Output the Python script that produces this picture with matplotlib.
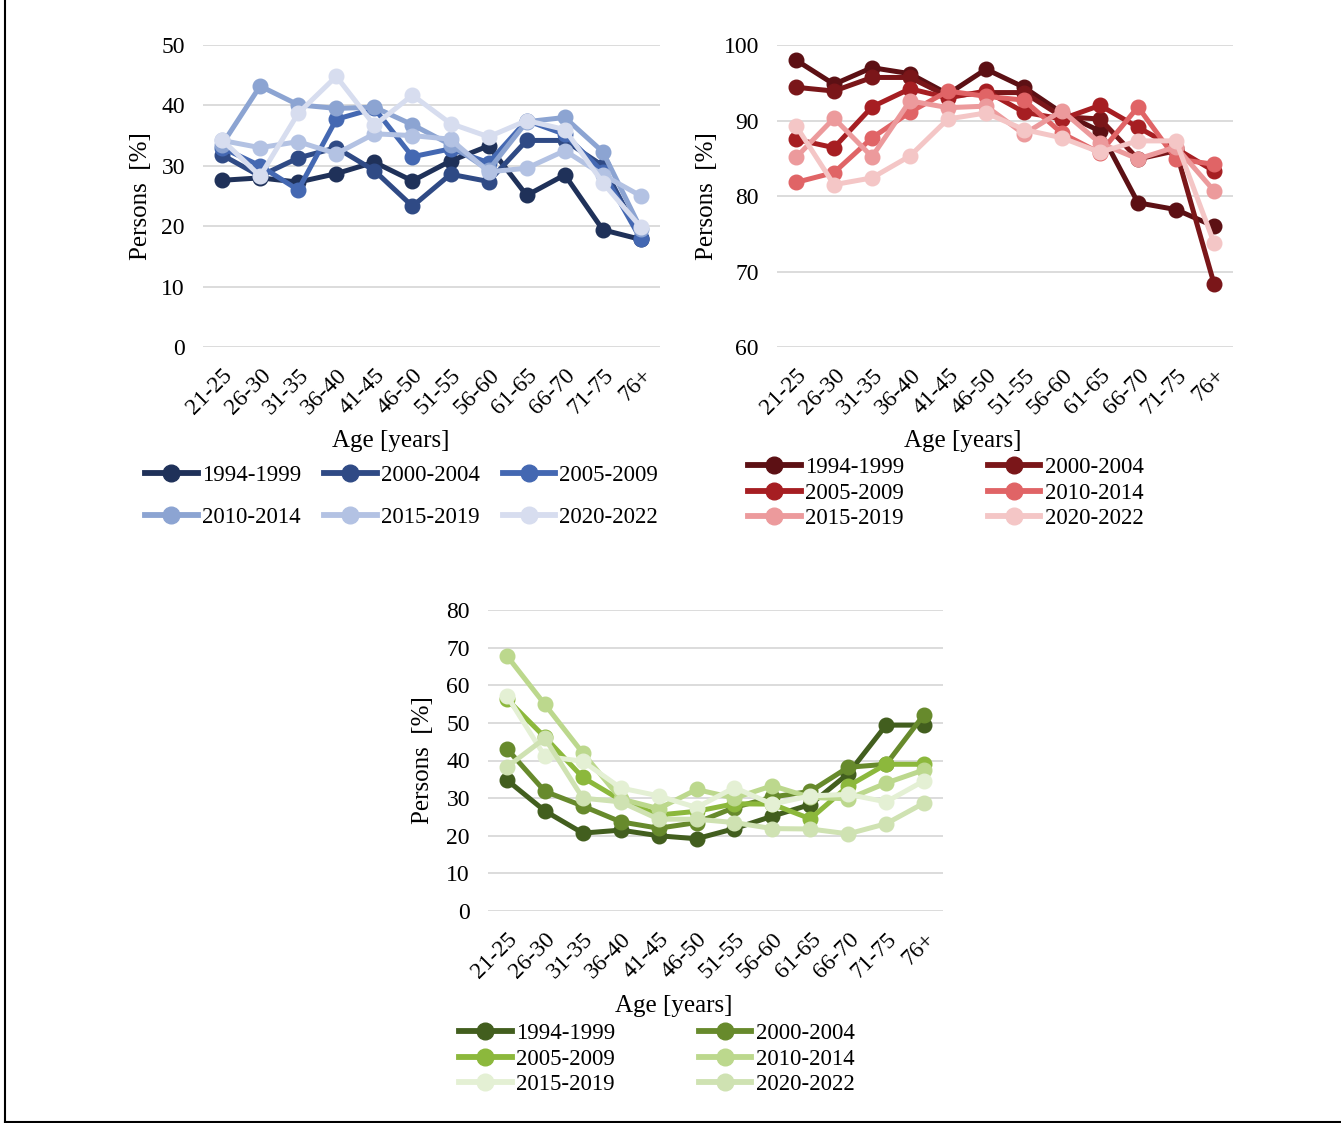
import matplotlib
matplotlib.use('Agg')
import matplotlib.pyplot as plt
from matplotlib.lines import Line2D

plt.rcParams['font.family'] = ['Liberation Serif', 'DejaVu Serif']
plt.rcParams['font.size'] = 17

ages = ['21-25', '26-30', '31-35', '36-40', '41-45', '46-50',
        '51-55', '56-60', '61-65', '66-70', '71-75', '76+']
periods = ['1994-1999', '2000-2004', '2005-2009', '2010-2014', '2015-2019', '2020-2022']

# top left chart (blue)
blue_1994 = [27.6, 28.0, 27.3, 28.7, 30.6, 27.5, 30.8, 33.3, 25.1, 28.5, 19.4, 17.8]
blue_2000 = [31.8, 28.3, 31.3, 33.0, 29.2, 23.3, 28.6, 27.4, 34.2, 34.2, 30.0, 18.0]
blue_2005 = [33.0, 30.0, 26.0, 37.7, 39.5, 31.5, 32.8, 30.5, 37.5, 35.2, 29.0, 17.8]
blue_2010 = [33.5, 43.2, 40.1, 39.5, 39.7, 36.8, 33.5, 29.3, 37.3, 38.0, 32.3, 19.5]
blue_2015 = [34.2, 33.0, 34.0, 32.0, 35.3, 35.0, 34.4, 29.0, 29.6, 32.5, 28.5, 25.0]
blue_2020 = [34.3, 28.3, 38.7, 44.8, 36.7, 41.7, 37.0, 34.8, 37.5, 36.0, 27.2, 19.8]
blue_series = [blue_1994, blue_2000, blue_2005, blue_2010, blue_2015, blue_2020]
blue_colors = ['#1f3159', '#2f4a85', '#4468b2', '#8ca4d2', '#b3c2e3', '#d7ddef']

# top right chart (red)
red_1994 = [98.0, 94.8, 97.0, 96.2, 93.5, 96.8, 94.4, 91.0, 88.6, 79.1, 78.2, 76.0]
red_2000 = [94.4, 93.9, 95.7, 95.7, 93.2, 93.7, 93.7, 90.5, 90.2, 84.9, 86.0, 68.4]
red_2005 = [87.5, 86.4, 91.8, 94.2, 93.0, 93.9, 91.1, 90.2, 92.0, 89.1, 86.3, 83.3]
red_2010 = [81.8, 83.1, 87.7, 91.1, 93.9, 93.2, 92.7, 88.3, 85.7, 91.8, 84.9, 84.2]
red_2015 = [85.1, 90.3, 85.2, 92.6, 91.7, 91.9, 88.2, 91.3, 87.0, 84.9, 86.5, 80.7]
red_2020 = [89.3, 81.5, 82.4, 85.3, 90.2, 91.0, 88.8, 87.7, 85.8, 87.3, 87.3, 73.8]
red_series = [red_1994, red_2000, red_2005, red_2010, red_2015, red_2020]
red_colors = ['#5c1014', '#7a1619', '#a61e22', '#e06466', '#ec9a9c', '#f4c6c6']

# bottom chart (green)
green_1994 = [34.8, 26.6, 20.7, 21.5, 20.0, 19.2, 21.9, 25.2, 28.3, 36.5, 49.4, 49.4]
green_2000 = [43.1, 31.8, 27.9, 23.7, 22.0, 23.5, 27.5, 30.3, 31.8, 38.2, 39.0, 52.2]
green_2005 = [56.3, 46.2, 35.5, 29.5, 25.5, 26.5, 28.5, 28.4, 24.5, 33.2, 39.0, 39.0]
green_2010 = [67.8, 54.9, 42.0, 29.8, 27.2, 32.3, 30.0, 33.3, 30.2, 29.8, 34.0, 37.5]
green_2015 = [57.2, 41.1, 39.8, 32.7, 30.6, 27.5, 32.8, 28.4, 30.6, 31.0, 29.0, 34.6]
green_2020 = [38.3, 45.9, 30.0, 29.0, 24.4, 24.4, 23.5, 21.9, 21.8, 20.5, 23.2, 28.7]
green_series = [green_1994, green_2000, green_2005, green_2010, green_2015, green_2020]
green_colors = ['#425e1e', '#678a2c', '#8cb83c', '#bcd88d', '#e4f0d4', '#cfe2b2']

W, H = 1341, 1123
fig = plt.figure(figsize=(W / 100, H / 100), dpi=100)


def px_axes(left, top, right, bottom):
    return fig.add_axes([left / W, 1 - bottom / H, (right - left) / W, (bottom - top) / H])


def draw_chart(ax, series, colors, ylim, label_x):
    x = range(len(ages))
    for vals, c in zip(series, colors):
        ax.plot(x, vals, color=c, lw=3.6, marker='o', ms=10.5, solid_capstyle='round')
    ax.set_xlim(-0.5, len(ages) - 0.5)
    ax.set_ylim(*ylim)
    ax.set_yticks(range(ylim[0], ylim[1] + 1, 10))
    ax.set_xticks(list(x))
    ax.set_xticklabels(ages, rotation=45, ha='right', va='top', rotation_mode='anchor')
    ax.tick_params(length=0, pad=13)
    ax.tick_params(axis='x', pad=13)
    ax.grid(axis='y', color='#d9d9d9', lw=1.3)
    ax.set_axisbelow(True)
    for s in ax.spines.values():
        s.set_visible(False)
    ax.set_ylabel('Persons  [%]', fontsize=18)
    ax.yaxis.set_label_coords(label_x, 0.5)


def legend_handles(colors):
    return [Line2D([], [], color=c, lw=4.2, marker='o', ms=12) for c in colors]


def row_major(items, ncol):
    nrow = (len(items) + ncol - 1) // ncol
    return [items[r * ncol + c] for c in range(ncol) for r in range(nrow)]


ax1 = px_axes(203, 45, 660, 347)
draw_chart(ax1, blue_series, blue_colors, (0, 50), -0.112)
ax2 = px_axes(777, 45, 1233, 347)
draw_chart(ax2, red_series, red_colors, (60, 100), -0.129)
ax3 = px_axes(488, 610, 943, 911)
draw_chart(ax3, green_series, green_colors, (0, 80), -0.119)

for cx, cy in [(391, 441), (963, 441), (674, 1006)]:
    fig.text(cx / W, 1 - cy / H, 'Age [years]', ha='center', va='center', fontsize=18)

leg_style = dict(frameon=False, loc='upper left', borderpad=0, borderaxespad=0,
                 handlelength=2.3, handletextpad=0.18, fontsize=16.5)
fig.legend(row_major(legend_handles(blue_colors), 3), row_major(periods, 3), ncol=3,
           bbox_to_anchor=(145 / W, 1 - 465 / H), columnspacing=1.0, labelspacing=0.9,
           **leg_style)
fig.legend(row_major(legend_handles(red_colors), 2), row_major(periods, 2), ncol=2,
           bbox_to_anchor=(748 / W, 1 - 457 / H), columnspacing=3.65, labelspacing=0.2,
           **leg_style)
fig.legend(row_major(legend_handles(green_colors), 2), row_major(periods, 2), ncol=2,
           bbox_to_anchor=(459 / W, 1 - 1023 / H), columnspacing=3.65, labelspacing=0.2,
           **leg_style)

# outer frame lines
fig.add_artist(Line2D([5 / W, 5 / W], [0, 1], color='black', lw=1.5))
fig.add_artist(Line2D([5 / W, 1], [1.5 / H, 1.5 / H], color='black', lw=1.5))

fig.savefig('out.png', dpi=100)
